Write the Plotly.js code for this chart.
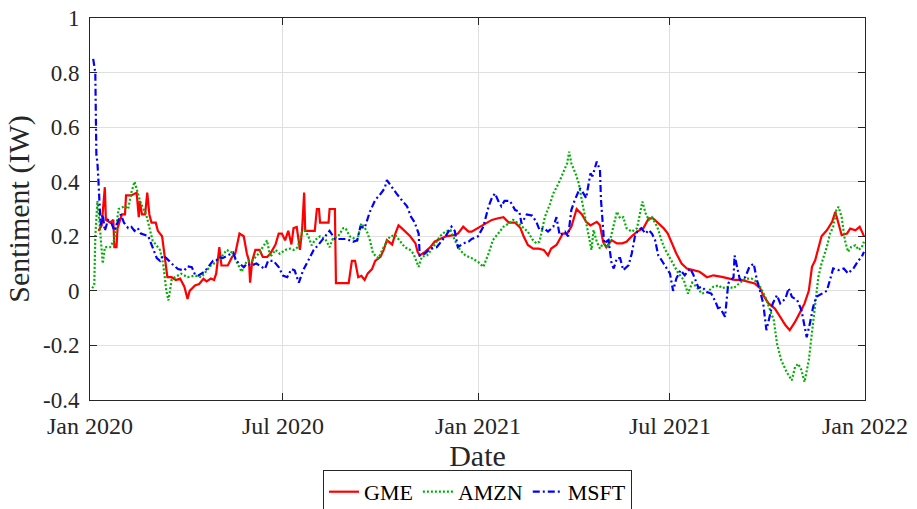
<!DOCTYPE html>
<html>
<head>
<meta charset="utf-8">
<script src="https://cdn.plot.ly/plotly-3.0.1.min.js"></script>
<style>html,body{margin:0;padding:0;background:#fff;}#chart{width:917px;height:509px;}</style>
</head>
<body>
<div id="chart"></div>
<script>
// Days since 2020-01-01 and sentiment values
const gmeDays = [8,11,14,15,19,22,23,25,26,30,33,34,39,42,44,46,47,49,52,54,56,58,62,64,68,71,73,77,81,85,89,92,94,99,103,107,110,114,117,119,122,124,130,134,137,141,145,148,150,151,153,156,160,163,167,170,175,178,181,184,187,190,192,195,198,200,202,203,209,212,214,216,217,225,226,231,232,244,247,250,253,256,259,262,266,269,274,277,280,285,288,291,294,297,302,307,309,311,316,321,325,330,336,343,347,352,357,360,366,373,379,385,390,395,401,406,409,413,418,423,428,432,435,440,443,446,450,454,459,464,468,472,478,481,484,487,492,497,502,506,511,516,522,527,531,536,541,545,549,553,558,563,569,575,582,588,596,602,608,614,621,627,632,635,640,646,651,656,660,665,670,674,678,681,684,687,690,695,700,703,705,709,714,717,722,726,729,730];
const gmeVals = [0.22,0.24,0.38,0.26,0.25,0.26,0.16,0.16,0.23,0.28,0.28,0.35,0.35,0.357,0.36,0.27,0.33,0.28,0.28,0.36,0.28,0.25,0.25,0.22,0.2,0.11,0.05,0.05,0.04,0.045,0.015,-0.03,0.0,0.02,0.025,0.044,0.035,0.045,0.04,0.063,0.16,0.093,0.093,0.124,0.136,0.21,0.2,0.136,0.11,0.03,0.11,0.15,0.15,0.124,0.124,0.136,0.17,0.21,0.21,0.185,0.22,0.17,0.23,0.234,0.15,0.22,0.36,0.22,0.22,0.22,0.3,0.3,0.25,0.25,0.3,0.3,0.028,0.028,0.11,0.11,0.05,0.055,0.04,0.064,0.08,0.11,0.125,0.15,0.186,0.17,0.21,0.24,0.23,0.22,0.2,0.174,0.143,0.13,0.143,0.16,0.18,0.19,0.2,0.204,0.21,0.235,0.217,0.217,0.23,0.247,0.26,0.266,0.27,0.25,0.25,0.23,0.2,0.168,0.155,0.155,0.15,0.13,0.155,0.168,0.19,0.21,0.21,0.235,0.3,0.28,0.253,0.24,0.253,0.24,0.18,0.16,0.186,0.174,0.174,0.18,0.2,0.217,0.23,0.266,0.266,0.247,0.23,0.21,0.174,0.137,0.1,0.082,0.076,0.07,0.05,0.057,0.051,0.045,0.04,0.04,0.033,0.027,0.01,-0.016,-0.046,-0.065,-0.095,-0.126,-0.144,-0.114,-0.077,-0.046,0.0,0.088,0.112,0.16,0.2,0.222,0.253,0.29,0.26,0.204,0.21,0.228,0.222,0.235,0.21,0.2];

const amznDays = [2,4,5,7,9,12,14,19,23,27,33,36,39,42,45,48,53,56,59,62,66,69,72,74,77,80,86,92,99,105,110,114,121,124,129,134,138,143,148,153,159,163,167,170,175,179,184,189,192,196,200,203,206,209,212,217,222,226,229,234,239,241,245,252,256,261,264,267,272,277,283,288,292,297,302,305,310,313,318,322,327,330,335,340,344,349,354,360,366,371,376,380,385,390,395,399,404,409,413,417,421,424,429,434,437,442,446,450,452,454,458,461,464,467,470,473,475,478,481,484,489,494,497,500,503,506,511,516,519,521,524,527,530,535,539,542,547,552,555,560,564,568,572,577,582,588,593,596,602,607,612,618,624,629,632,637,641,645,648,652,657,662,665,668,671,674,678,681,684,687,690,695,698,701,704,706,709,712,715,718,722,725,728,730];
const amznVals = [0.01,0.02,0.2,0.33,0.25,0.1,0.16,0.16,0.19,0.3,0.31,0.30,0.36,0.40,0.36,0.32,0.28,0.23,0.185,0.17,0.15,0.1,0.0,-0.035,0.04,0.05,0.063,0.05,0.056,0.05,0.075,0.093,0.11,0.124,0.15,0.14,0.11,0.07,0.11,0.11,0.136,0.16,0.185,0.124,0.15,0.136,0.15,0.155,0.15,0.16,0.216,0.22,0.2,0.167,0.185,0.2,0.19,0.16,0.19,0.2,0.23,0.23,0.2,0.186,0.247,0.22,0.186,0.137,0.12,0.16,0.2,0.204,0.186,0.16,0.15,0.137,0.088,0.125,0.13,0.15,0.18,0.2,0.217,0.223,0.186,0.15,0.13,0.12,0.106,0.088,0.137,0.186,0.21,0.235,0.247,0.26,0.247,0.23,0.217,0.19,0.174,0.18,0.27,0.32,0.357,0.394,0.43,0.467,0.51,0.467,0.43,0.394,0.33,0.27,0.223,0.15,0.223,0.18,0.155,0.174,0.16,0.235,0.29,0.266,0.27,0.23,0.217,0.23,0.285,0.327,0.285,0.26,0.27,0.235,0.186,0.155,0.12,0.082,0.064,0.04,-0.01,0.03,0.015,-0.01,-0.005,0.015,0.02,0.01,0.015,0.01,0.027,0.045,0.045,0.033,0.015,-0.022,-0.065,-0.108,-0.193,-0.254,-0.297,-0.328,-0.279,-0.267,-0.29,-0.334,-0.254,-0.144,-0.046,0.051,0.1,0.161,0.21,0.235,0.296,0.308,0.27,0.186,0.143,0.161,0.167,0.15,0.16,0.18];

const msftDays = [3,5,6,7,8,10,12,14,17,20,23,25,29,32,36,39,42,45,48,52,55,59,63,66,69,72,77,83,89,92,96,99,102,108,113,116,119,122,125,130,135,138,145,148,152,157,160,165,168,173,178,182,186,190,193,197,201,206,211,215,222,226,231,237,242,248,252,255,259,264,269,273,278,280,285,289,294,299,303,306,310,311,316,321,327,332,336,341,344,347,352,357,360,366,371,376,379,382,385,388,391,396,401,405,407,412,417,421,424,428,432,437,440,443,448,451,454,457,462,465,468,472,474,478,481,482,484,485,489,492,494,497,500,503,508,511,514,517,520,524,527,530,533,536,539,544,547,550,553,557,561,566,569,574,577,582,586,590,593,594,599,602,607,608,610,613,618,622,626,629,632,635,638,641,644,648,651,656,659,662,667,671,674,676,679,682,685,690,695,698,701,706,711,715,720,725,728,730];
const msftVals = [0.85,0.8,0.5,0.47,0.4,0.24,0.28,0.22,0.26,0.25,0.22,0.24,0.28,0.25,0.23,0.235,0.22,0.23,0.21,0.205,0.2,0.16,0.12,0.11,0.13,0.12,0.1,0.08,0.075,0.09,0.087,0.06,0.056,0.07,0.093,0.11,0.11,0.124,0.12,0.13,0.14,0.11,0.087,0.1,0.093,0.1,0.093,0.08,0.11,0.11,0.087,0.056,0.05,0.08,0.075,0.03,0.075,0.11,0.15,0.167,0.2,0.22,0.19,0.19,0.19,0.18,0.185,0.235,0.23,0.29,0.333,0.35,0.376,0.406,0.376,0.357,0.333,0.31,0.27,0.253,0.21,0.13,0.137,0.155,0.16,0.186,0.204,0.235,0.22,0.16,0.174,0.18,0.19,0.2,0.235,0.31,0.34,0.357,0.33,0.31,0.33,0.33,0.296,0.29,0.247,0.28,0.276,0.253,0.223,0.23,0.217,0.235,0.27,0.204,0.217,0.2,0.296,0.33,0.376,0.36,0.34,0.43,0.42,0.474,0.443,0.333,0.235,0.174,0.186,0.1,0.082,0.12,0.12,0.076,0.094,0.137,0.2,0.223,0.23,0.21,0.223,0.21,0.186,0.13,0.113,0.082,0.064,0.0,0.045,0.076,0.057,0.082,0.06,0.01,0.015,-0.004,-0.01,-0.04,-0.07,-0.06,-0.095,0.027,0.05,0.13,0.088,0.04,0.05,0.088,0.1,0.04,0.0,-0.046,-0.144,-0.1,-0.046,-0.016,-0.046,-0.028,0.01,-0.022,-0.034,-0.07,-0.132,-0.17,-0.12,-0.06,-0.022,-0.01,0.0,0.04,0.082,0.076,0.082,0.064,0.082,0.112,0.125,0.143];

const seriesNames = ['GME', 'AMZN', 'MSFT'];
const xTickVals = ['2020-01-01', '2020-07-01', '2021-01-01', '2021-07-01', '2022-01-01'];
const xTickText = ['Jan 2020', 'Jul 2020', 'Jan 2021', 'Jul 2021', 'Jan 2022'];
const yTickVals = [-0.4, -0.2, 0, 0.2, 0.4, 0.6, 0.8, 1];
const yTickText = ['-0.4', '-0.2', '0', '0.2', '0.4', '0.6', '0.8', '1'];

function toDates(days) {
  const base = Date.UTC(2020, 0, 1);
  return days.map(d => new Date(base + d * 86400000).toISOString().slice(0, 10));
}

const FONT = '"Liberation Serif", "DejaVu Serif", serif';
const axisColor = '#262626';

const traces = [
  {x: toDates(gmeDays), y: gmeVals, name: seriesNames[0], type: 'scatter', mode: 'lines',
   line: {color: '#ff0000', width: 2.2}},
  {x: toDates(amznDays), y: amznVals, name: seriesNames[1], type: 'scatter', mode: 'lines',
   line: {color: '#00b000', width: 2.2, dash: '2px,2px'}},
  {x: toDates(msftDays), y: msftVals, name: seriesNames[2], type: 'scatter', mode: 'lines',
   line: {color: '#0000ff', width: 2.2, dash: '7px,3px,2px,3px'}}
];

const layout = {
  width: 917, height: 509,
  margin: {l: 90, r: 52, t: 18, b: 109, autoexpand: false},
  paper_bgcolor: '#ffffff', plot_bgcolor: '#ffffff',
  font: {family: FONT, size: 24, color: axisColor},
  showlegend: true,
  legend: {
    orientation: 'h', x: 0.5, xanchor: 'center', y: -0.183, yanchor: 'top',
    font: {family: FONT, size: 22, color: '#000'},
    bgcolor: '#ffffff', bordercolor: axisColor, borderwidth: 1,
    itemwidth: 30, tracegroupgap: 0
  },
  xaxis: {
    type: 'date', range: ['2020-01-01', '2022-01-01'],
    tickmode: 'array', tickvals: xTickVals, ticktext: xTickText,
    ticks: 'inside', ticklen: 7, tickcolor: axisColor, tickwidth: 1,
    ticklabelstandoff: 4,
    showline: true, linecolor: axisColor, linewidth: 1, mirror: 'ticks',
    showgrid: true, gridcolor: '#e0e0e0', gridwidth: 1, zeroline: false,
    tickfont: {family: FONT, size: 24, color: axisColor},
    title: {text: 'Date', font: {family: FONT, size: 30, color: axisColor}, standoff: 0}
  },
  yaxis: {
    range: [-0.4, 1],
    tickmode: 'array', tickvals: yTickVals, ticktext: yTickText,
    ticks: 'inside', ticklen: 7, tickcolor: axisColor, tickwidth: 1,
    ticklabelstandoff: 5,
    showline: true, linecolor: axisColor, linewidth: 1, mirror: 'ticks',
    showgrid: true, gridcolor: '#e0e0e0', gridwidth: 1, zeroline: false,
    tickfont: {family: FONT, size: 23, color: axisColor},
    title: {text: 'Sentiment (IW)', font: {family: FONT, size: 30, color: axisColor}, standoff: 4}
  }
};

Plotly.newPlot('chart', traces, layout, {displayModeBar: false, staticPlot: true});
</script>
</body>
</html>
